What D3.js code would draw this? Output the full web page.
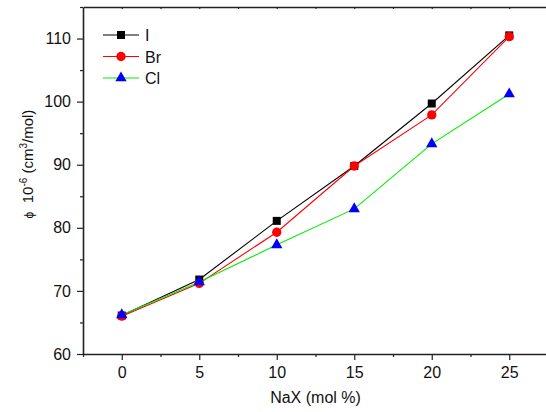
<!DOCTYPE html>
<html>
<head>
<meta charset="utf-8">
<script src="https://cdn.jsdelivr.net/npm/d3@7"></script>
<style>
  body { margin: 0; background: #fff; }
  svg { font-family: "Liberation Sans", Arial, sans-serif; }
</style>
</head>
<body>
<div id="chart"></div>
<script>
// data
const naX = [0, 5, 10, 15, 20, 25];
const iValues = [66.1, 71.8, 81.1, 89.8, 99.7, 110.5];
const brValues = [66.0, 71.2, 79.3, 89.8, 97.9, 110.3];
const clValues = [66.2, 71.4, 77.3, 83.0, 93.3, 101.2];
const seriesNames = ["I", "Br", "Cl"];
const xTicks = [0, 5, 10, 15, 20, 25];
const yTicks = [60, 70, 80, 90, 100, 110];

const W = 546, H = 412;
const plotLeft = 83, plotTop = 7, plotBottom = 354;

const svg = d3.select("#chart").append("svg")
  .attr("width", W).attr("height", H);

const x = d3.scaleLinear().domain([-2.5, 27.5]).range([plotLeft, plotLeft + 465]);
const y = d3.scaleLinear().domain([60, 115]).range([plotBottom, plotTop]);

const series = [
  { name: seriesNames[0], vals: iValues, line: "#000", fill: "#000", shape: d3.symbolSquare, size: 64 },
  { name: seriesNames[1], vals: brValues, line: "#ff0000", fill: "#ff0000", shape: d3.symbolCircle, size: 68 },
  { name: seriesNames[2], vals: clValues, line: "#00ee00", fill: "#0000ff", shape: d3.symbolTriangle, size: 56 }
];

// axes
svg.append("g")
  .attr("transform", `translate(0,${plotBottom})`)
  .call(d3.axisBottom(x).tickValues(xTicks).tickSize(6).tickSizeOuter(0).tickPadding(7));
svg.append("g")
  .attr("transform", `translate(0,${plotBottom})`)
  .call(d3.axisBottom(x).tickValues([-2.5, 2.5, 7.5, 12.5, 17.5, 22.5]).tickSize(3).tickSizeOuter(0).tickFormat(""))
  .select(".domain").remove();

svg.append("g")
  .attr("transform", `translate(${plotLeft},0)`)
  .call(d3.axisLeft(y).tickValues(yTicks).tickSize(6).tickSizeOuter(0).tickPadding(6));
svg.append("g")
  .attr("transform", `translate(${plotLeft},0)`)
  .call(d3.axisLeft(y).tickValues([65, 75, 85, 95, 105, 115]).tickSize(3).tickSizeOuter(0).tickFormat(""))
  .select(".domain").remove();

// top frame line with small inward ticks
svg.append("g")
  .attr("transform", `translate(0,${plotTop})`)
  .call(d3.axisBottom(x).tickValues([0, 2.5, 5, 7.5, 10, 12.5, 15, 17.5, 20, 22.5, 25]).tickSize(2).tickSizeOuter(0).tickFormat(""));

svg.selectAll(".domain").attr("stroke", "#222").attr("stroke-width", 1.6);
svg.selectAll(".tick line").attr("stroke", "#222").attr("stroke-width", 1.2);
svg.selectAll(".tick text").attr("font-size", 16).attr("fill", "#111")
  .attr("font-family", "Liberation Sans, Arial, sans-serif");

// axis titles
svg.append("text")
  .attr("x", x(12.5)).attr("y", 403)
  .attr("text-anchor", "middle").attr("font-size", 16).attr("fill", "#111")
  .text("NaX (mol %)");

const yt = svg.append("text")
  .attr("transform", `translate(33,164) rotate(-90)`)
  .attr("text-anchor", "middle").attr("font-size", 15).attr("fill", "#111");
yt.append("tspan").attr("font-size", 12).text("\u03D5");
yt.append("tspan").text("\u00A0\u00A010");
yt.append("tspan").attr("dy", -6).attr("font-size", 10).text("-6");
yt.append("tspan").attr("dy", 6).text("\u00A0(cm");
yt.append("tspan").attr("dy", -6).attr("font-size", 10).text("3");
yt.append("tspan").attr("dy", 6).text("/mol)");

// lines and markers
const line = d3.line().x((d, i) => x(naX[i])).y(d => y(d));

series.forEach(s => {
  svg.append("path")
    .datum(s.vals)
    .attr("d", line)
    .attr("fill", "none")
    .attr("stroke", s.line)
    .attr("stroke-width", 1.1);
});

series.forEach(s => {
  svg.selectAll(null)
    .data(s.vals)
    .enter()
    .append("path")
    .attr("d", d3.symbol().type(s.shape).size(s.size))
    .attr("transform", (d, i) => `translate(${x(naX[i])},${y(d)})`)
    .attr("fill", s.fill);
});

// legend
const legend = svg.append("g").attr("transform", "translate(103,35)");
series.forEach((s, i) => {
  const g = legend.append("g").attr("transform", `translate(0,${i * 21.5})`);
  g.append("line").attr("x1", 0).attr("x2", 36).attr("y1", 0).attr("y2", 0)
    .attr("stroke", s.line).attr("stroke-width", 1.1);
  g.append("path").attr("d", d3.symbol().type(s.shape).size(s.size))
    .attr("transform", "translate(18,0)").attr("fill", s.fill);
  g.append("text").attr("x", 42).attr("y", 6).attr("font-size", 16).attr("fill", "#111").text(s.name);
});
</script>
</body>
</html>
